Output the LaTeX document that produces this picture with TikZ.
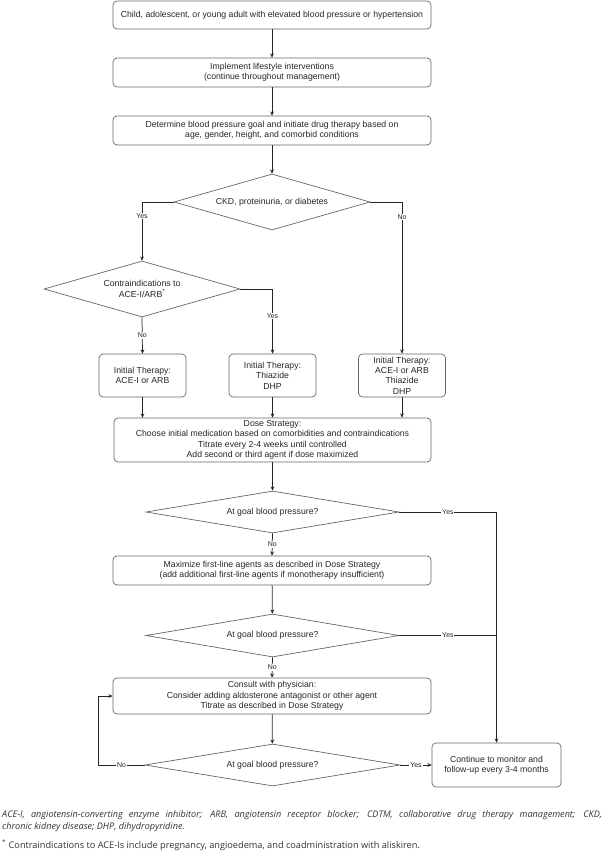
\documentclass[tikz,border=0pt]{standalone}
\usepackage{fontspec}
\setmainfont{Liberation Sans}
\newfontfamily\notefont{Open Sans}
\usetikzlibrary{shapes.geometric, arrows.meta, calc}

\begin{document}
\begin{tikzpicture}[x=1pt, y=-1pt,
    every node/.style={font=\fontsize{8.7}{10.4}\selectfont, text=black!85},
    box/.style={draw=black!60, rounded corners=4pt, line width=0.7pt, align=center, inner sep=0pt},
    dec/.style={diamond, draw=black!60, line width=0.7pt, align=center, inner sep=0pt},
    arr/.style={draw=black!85, line width=0.75pt, -{Stealth[length=4.2pt,width=3.8pt]}},
    ln/.style={draw=black!85, line width=0.75pt},
    lbl/.style={fill=white, inner sep=0.8pt, font=\fontsize{7}{7}\selectfont}]
      \useasboundingbox (0,0) rectangle (604,851);

      % main column
      \node[box, minimum width=318, minimum height=28] (start) at (272,15)
        {Child, adolescent, or young adult with elevated blood pressure or hypertension};
      \node[box, minimum width=318, minimum height=29] (life) at (272,72.5)
        {Implement lifestyle interventions\\(continue throughout management)};
      \node[box, minimum width=318, minimum height=29] (goal) at (272,130.5)
        {Determine blood pressure goal and initiate drug therapy based on\\age, gender, height, and comorbid conditions};
      \node[dec, shape aspect=3.5, minimum width=196, minimum height=56] (ckd) at (272,202)
        {CKD, proteinuria, or diabetes};
      \node[dec, shape aspect=3.5, minimum width=196, minimum height=56] (contra) at (142,289)
        {Contraindications to\\ACE-I/ARB\textsuperscript{*}};

      % initial therapy
      \node[box, minimum width=87, minimum height=43] (therA) at (142.5,375.5)
        {Initial Therapy:\\ACE-I or ARB};
      \node[box, minimum width=87, minimum height=43] (therB) at (272.5,375.5)
        {Initial Therapy:\\Thiazide\\DHP};
      \node[box, minimum width=87, minimum height=43] (therC) at (402,375.5)
        {Initial Therapy:\\ACE-I or ARB\\Thiazide\\DHP};
      \node[box, minimum width=317, minimum height=44] (dose) at (272.5,440)
        {Dose Strategy:\\Choose initial medication based on comorbidities and contraindications\\Titrate every 2-4 weeks until controlled\\Add second or third agent if dose maximized};

      % goal checks
      \node[dec, shape aspect=6, minimum width=253, minimum height=42] (atgoalA) at (272.5,512)
        {At goal blood pressure?};
      \node[box, minimum width=318, minimum height=29] (maxi) at (272,570.5)
        {Maximize first-line agents as described in Dose Strategy\\(add additional first-line agents if monotherapy insufficient)};
      \node[dec, shape aspect=6, minimum width=253, minimum height=43] (atgoalB) at (272.5,635.5)
        {At goal blood pressure?};
      \node[box, minimum width=318, minimum height=36] (consult) at (272,696)
        {Consult with physician:\\Consider adding aldosterone antagonist or other agent\\Titrate as described in Dose Strategy};
      \node[dec, shape aspect=6, minimum width=255, minimum height=42] (atgoalC) at (272.5,765)
        {At goal blood pressure?};
      \node[box, minimum width=129, minimum height=44] (monitor) at (496.5,765)
        {Continue to monitor and\\follow-up every 3-4 months};

      \coordinate (corner) at (496.5,512);

      % connectors
      \draw[arr] (start) -- (life);
      \draw[arr] (life) -- (goal);
      \draw[arr] (goal) -- (ckd);
      \draw[arr] (ckd.west) -| node[lbl, pos=0.62] {Yes} (contra.north);
      \draw[arr] (ckd.east) -| node[lbl, pos=0.55] {No} (therC.north);
      \draw[arr] (contra.south) -- node[lbl] {No} (therA.north);
      \draw[arr] (contra.east) -| node[lbl, pos=0.71] {Yes} (therB.north);
      \draw[arr] (therA.south) -- (therA.south |- dose.north);
      \draw[arr] (therB.south) -- (therB.south |- dose.north);
      \draw[arr] (therC.south) -- (therC.south |- dose.north);
      \draw[arr] (dose) -- (atgoalA);
      \draw[arr] (atgoalA.south) -- node[lbl] {No} (maxi.north);
      \draw[arr] (maxi) -- (atgoalB);
      \draw[arr] (atgoalB.south) -- node[lbl] {No} (consult.north);
      \draw[arr] (consult) -- (atgoalC);
      \draw[ln] (atgoalA.east) -- node[lbl] {Yes} (corner);
      \draw[arr] (corner) -- (monitor.north);
      \draw[ln] (atgoalB.east) -- node[lbl] {Yes} (atgoalB.east -| corner);
      \draw[arr] (atgoalC.east) -- node[lbl] {Yes} (monitor.west);
      \draw[arr] (atgoalC.west) -- node[lbl] {No} ++(-46,0) |- (consult.west);

      % footnotes
      \node[anchor=west, inner sep=0pt, font=\notefont\itshape\fontsize{9.1}{10}\selectfont, text=black!80] (abbrA) at (2,815)
        {\makebox[600pt][s]{ACE-I, angiotensin-converting enzyme inhibitor; ARB, angiotensin receptor blocker; CDTM, collaborative drug therapy management; CKD,}};
      \node[anchor=west, inner sep=0pt, font=\notefont\itshape\fontsize{9.1}{10}\selectfont, text=black!80] (abbrB) at (2,827.5)
        {chronic kidney disease; DHP, dihydropyridine.};
      \node[anchor=west, inner sep=0pt, font=\notefont\fontsize{9.2}{10}\selectfont, text=black!80] (star) at (2,845)
        {\textsuperscript{*} Contraindications to ACE-Is include pregnancy, angioedema, and coadministration with aliskiren.};
    \end{tikzpicture}
\end{document}
